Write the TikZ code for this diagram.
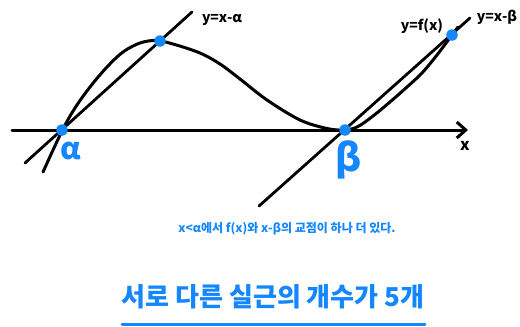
\documentclass[tikz,border=0pt]{standalone}
\usepackage{fontspec}
\setmainfont{DejaVu Sans}
\newfontfamily\kr{Noto Sans CJK KR}
\usetikzlibrary{arrows.meta}
\definecolor{hblue}{RGB}{20,135,255}
\tikzset{
  ink/.style={line width=3pt, line cap=round, line join=round, black},
  dot/.style={circle, fill=hblue, inner sep=0pt, minimum size=11.5pt},
  lbl/.style={font=\kr\bfseries\fontsize{14}{14}\selectfont, inner sep=0pt},
  bluelbl/.style={text=hblue, inner sep=0pt},
}
\begin{document}
\begin{tikzpicture}[x=1pt, y=-1pt]
\useasboundingbox (0,0) rectangle (520,327);
% axis
\coordinate (xl) at (12,130);
\coordinate (xr) at (468,130);
\draw[ink, -{Straight Barb[length=9pt, width=16pt, line width=3pt]}] (xl) -- (xr);
% curve y=f(x)
\draw[ink] plot[smooth, tension=0.55] coordinates {
 (43,172) (62,131) (75,108) (90,87) (107,67) (123,52) (140,43) (156,40.5)
 (173,44) (200,53) (220,64) (240,79) (267,100) (300,120) (327,128.5) (345,130)
 (358,126.5) (373,116) (390,102) (407,87) (422,73) (437,55) (452,35) (458,27)};
% lines
\coordinate (la1) at (25,163);
\coordinate (la2) at (192,12);
\coordinate (lb1) at (259,206);
\coordinate (lb2) at (470,18);
\draw[ink, line width=2.8pt] (la1) -- (la2);
\draw[ink, line width=2.8pt] (lb1) -- (lb2);
% points
\node[dot] (A) at (62,130) {};
\node[dot] (P) at (160,41) {};
\node[dot] (B) at (345,130) {};
\node[dot] (Q) at (452,35) {};
% labels
\node[lbl] (ta) at (222,20) {y=x-α};
\node[lbl] (tf) at (422,26) {y=f(x)};
\node[lbl] (tb) at (497,17) {y=x-β};
\node[lbl, font=\kr\bfseries\fontsize{16}{16}\selectfont] (tx) at (465,146) {x};
\node[bluelbl, font=\kr\bfseries\fontsize{30}{30}\selectfont] (talpha) at (71,151) {α};
\node[bluelbl, font=\kr\bfseries\fontsize{38}{38}\selectfont] (tbeta) at (349,160) {β};
\node[bluelbl, font=\kr\bfseries\fontsize{12}{12}\selectfont] (note) at (287,229) {x<α에서 f(x)와 x-β의 교점이 하나 더 있다.};
\node[bluelbl, font=\kr\bfseries\fontsize{26}{26}\selectfont] (title) at (273,297) {서로 다른 실근의 개수가 5개};
\coordinate (u1) at (122,324);
\coordinate (u2) at (425,324);
\draw[hblue, line width=3pt, line cap=round] (u1) -- (u2);
\end{tikzpicture}
\end{document}
